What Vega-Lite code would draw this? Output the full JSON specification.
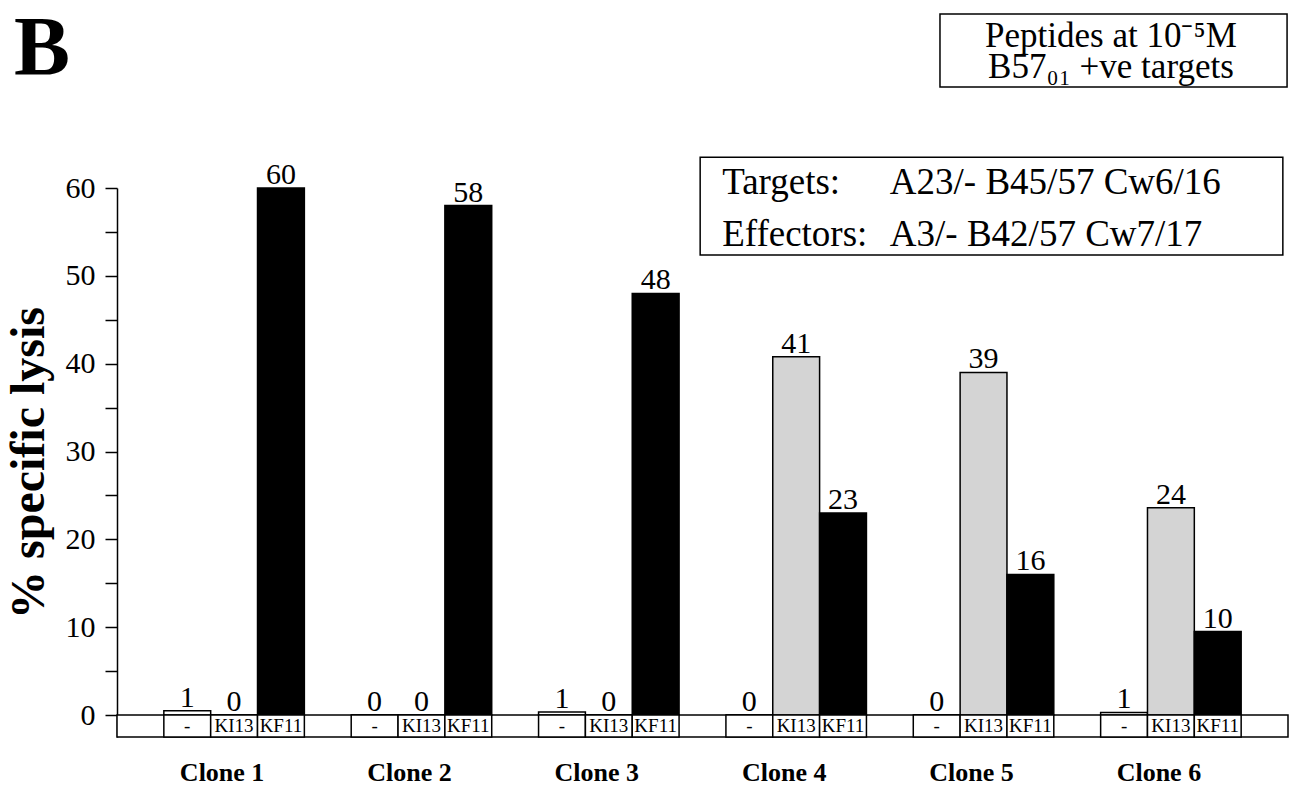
{
  "$schema": "https://vega.github.io/schema/vega-lite/v6.json",
  "width": 1171,
  "height": 549,
  "autosize": "none",
  "padding": {"left": 117, "top": 188, "right": 6, "bottom": 49},
  "background": "white",
  "config": {"view": {"stroke": null}, "font": "Liberation Serif"},
  "datasets": {
    "lysis": [
      {"clone": "Clone 1", "peptide": "-", "lysis": 0.5, "label": "1"},
      {"clone": "Clone 1", "peptide": "KI13", "lysis": 0, "label": "0"},
      {"clone": "Clone 1", "peptide": "KF11", "lysis": 60, "label": "60"},
      {"clone": "Clone 2", "peptide": "-", "lysis": 0, "label": "0"},
      {"clone": "Clone 2", "peptide": "KI13", "lysis": 0, "label": "0"},
      {"clone": "Clone 2", "peptide": "KF11", "lysis": 58, "label": "58"},
      {"clone": "Clone 3", "peptide": "-", "lysis": 0.35, "label": "1"},
      {"clone": "Clone 3", "peptide": "KI13", "lysis": 0, "label": "0"},
      {"clone": "Clone 3", "peptide": "KF11", "lysis": 48, "label": "48"},
      {"clone": "Clone 4", "peptide": "-", "lysis": 0, "label": "0"},
      {"clone": "Clone 4", "peptide": "KI13", "lysis": 40.8, "label": "41"},
      {"clone": "Clone 4", "peptide": "KF11", "lysis": 23, "label": "23"},
      {"clone": "Clone 5", "peptide": "-", "lysis": 0, "label": "0"},
      {"clone": "Clone 5", "peptide": "KI13", "lysis": 39, "label": "39"},
      {"clone": "Clone 5", "peptide": "KF11", "lysis": 16, "label": "16"},
      {"clone": "Clone 6", "peptide": "-", "lysis": 0.3, "label": "1"},
      {"clone": "Clone 6", "peptide": "KI13", "lysis": 23.6, "label": "24"},
      {"clone": "Clone 6", "peptide": "KF11", "lysis": 9.5, "label": "10"}
    ]
  },
  "resolve": {"scale": {"x": "independent"}, "axis": {"x": "independent", "y": "independent"}},
  "layer": [
    {
      "data": {"values": [{}]},
      "encoding": {},
      "layer": [
        {
          "mark": {"type": "rect", "fill": "white", "stroke": "black", "strokeWidth": 1.5},
          "encoding": {
            "x": {"datum": 0, "type": "quantitative", "scale": {"domain": [0, 25], "nice": false, "zero": false}, "axis": null},
            "x2": {"datum": 25},
            "y": {"datum": 0, "type": "quantitative", "scale": {"domain": [-2.5, 60], "nice": false, "zero": false}, "axis": null},
            "y2": {"datum": -2.5}
          }
        },
        {
          "mark": {"type": "rect", "fill": "white", "stroke": "black", "strokeWidth": 1.5},
          "encoding": {
            "x": {"datum": 17.57, "type": "quantitative", "scale": {"domain": [0, 25], "nice": false, "zero": false}, "axis": null},
            "x2": {"datum": 24.98},
            "y": {"datum": 79.8, "type": "quantitative", "scale": {"domain": [-2.5, 60], "nice": false, "zero": false}, "axis": null},
            "y2": {"datum": 71.5}
          }
        },
        {
          "mark": {"type": "rect", "fill": "white", "stroke": "black", "strokeWidth": 1.5},
          "encoding": {
            "x": {"datum": 12.45, "type": "quantitative", "scale": {"domain": [0, 25], "nice": false, "zero": false}, "axis": null},
            "x2": {"datum": 24.89},
            "y": {"datum": 63.5, "type": "quantitative", "scale": {"domain": [-2.5, 60], "nice": false, "zero": false}, "axis": null},
            "y2": {"datum": 52.37}
          }
        },
        {
          "mark": {"type": "text", "text": "B", "font": "Liberation Serif", "fontWeight": "bold", "fontSize": 84, "align": "left", "baseline": "alphabetic", "color": "black"},
          "encoding": {
            "x": {"datum": -2.2, "type": "quantitative", "scale": {"domain": [0, 25], "nice": false, "zero": false}, "axis": null},
            "y": {"datum": 72.86, "type": "quantitative", "scale": {"domain": [-2.5, 60], "nice": false, "zero": false}, "axis": null}
          }
        },
        {
          "mark": {"type": "text", "text": ["Peptides at 10⁻⁵M", "B57₀₁ +ve targets"], "lineHeight": 31, "font": "Liberation Serif", "fontSize": 35, "align": "center", "baseline": "alphabetic", "color": "black"},
          "encoding": {
            "x": {"datum": 21.22, "type": "quantitative", "scale": {"domain": [0, 25], "nice": false, "zero": false}, "axis": null},
            "y": {"datum": 76.0, "type": "quantitative", "scale": {"domain": [-2.5, 60], "nice": false, "zero": false}, "axis": null}
          }
        },
        {
          "mark": {"type": "text", "text": "Targets:", "font": "Liberation Serif", "fontSize": 37, "align": "left", "baseline": "alphabetic", "color": "black"},
          "encoding": {
            "x": {"datum": 12.92, "type": "quantitative", "scale": {"domain": [0, 25], "nice": false, "zero": false}, "axis": null},
            "y": {"datum": 59.3, "type": "quantitative", "scale": {"domain": [-2.5, 60], "nice": false, "zero": false}, "axis": null}
          }
        },
        {
          "mark": {"type": "text", "text": "A23/- B45/57 Cw6/16", "font": "Liberation Serif", "fontSize": 37, "align": "left", "baseline": "alphabetic", "color": "black"},
          "encoding": {
            "x": {"datum": 16.5, "type": "quantitative", "scale": {"domain": [0, 25], "nice": false, "zero": false}, "axis": null},
            "y": {"datum": 59.3, "type": "quantitative", "scale": {"domain": [-2.5, 60], "nice": false, "zero": false}, "axis": null}
          }
        },
        {
          "mark": {"type": "text", "text": "Effectors:", "font": "Liberation Serif", "fontSize": 37, "align": "left", "baseline": "alphabetic", "color": "black"},
          "encoding": {
            "x": {"datum": 12.92, "type": "quantitative", "scale": {"domain": [0, 25], "nice": false, "zero": false}, "axis": null},
            "y": {"datum": 53.4, "type": "quantitative", "scale": {"domain": [-2.5, 60], "nice": false, "zero": false}, "axis": null}
          }
        },
        {
          "mark": {"type": "text", "text": "A3/- B42/57 Cw7/17", "font": "Liberation Serif", "fontSize": 37, "align": "left", "baseline": "alphabetic", "color": "black"},
          "encoding": {
            "x": {"datum": 16.5, "type": "quantitative", "scale": {"domain": [0, 25], "nice": false, "zero": false}, "axis": null},
            "y": {"datum": 53.4, "type": "quantitative", "scale": {"domain": [-2.5, 60], "nice": false, "zero": false}, "axis": null}
          }
        }
      ]
    },
    {
      "data": {"name": "lysis"},
      "encoding": {
        "x": {
          "field": "clone",
          "type": "nominal",
          "sort": ["Clone 1", "Clone 2", "Clone 3", "Clone 4", "Clone 5", "Clone 6"],
          "scale": {"paddingInner": 0.25, "paddingOuter": 0.25},
          "axis": {
            "orient": "bottom",
            "title": null,
            "domain": false,
            "ticks": false,
            "labelAngle": 0,
            "labelFont": "Liberation Serif",
            "labelFontWeight": "bold",
            "labelFontSize": 26,
            "labelColor": "black",
            "labelPadding": 22,
            "labelOffset": -12
          }
        },
        "xOffset": {
          "field": "peptide",
          "type": "nominal",
          "sort": ["-", "KI13", "KF11"],
          "scale": {"domain": ["-", "KI13", "KF11"], "paddingInner": 0, "paddingOuter": 0}
        }
      },
      "layer": [
        {
          "mark": {"type": "bar", "stroke": "black", "strokeWidth": 1.5},
          "encoding": {
            "y": {
              "field": "lysis",
              "type": "quantitative",
              "scale": {"domain": [-2.5, 60], "nice": false, "zero": false},
              "axis": {
                "values": [0, 5, 10, 15, 20, 25, 30, 35, 40, 45, 50, 55, 60],
                "labelExpr": "datum.value % 10 === 0 ? datum.label : ''",
                "grid": false,
                "tickSize": 12,
                "tickWidth": 1.5,
                "tickColor": "black",
                "domainColor": "black",
                "domainWidth": 1.5,
                "labelFont": "Liberation Serif",
                "labelFontSize": 30,
                "labelColor": "black",
                "labelPadding": 10,
                "title": "% specific lysis",
                "titleFont": "Liberation Serif",
                "titleFontWeight": "bold",
                "titleFontSize": 48,
                "titleColor": "black",
                "titlePadding": 12
              }
            },
            "y2": {"datum": 0},
            "color": {
              "field": "peptide",
              "type": "nominal",
              "scale": {"domain": ["-", "KI13", "KF11"], "range": ["#ffffff", "#d4d4d4", "#000000"]},
              "legend": null
            }
          }
        },
        {
          "mark": {"type": "text", "font": "Liberation Serif", "fontSize": 30, "baseline": "alphabetic", "dy": -4, "color": "black"},
          "encoding": {
            "y": {"field": "lysis", "type": "quantitative", "scale": {"domain": [-2.5, 60], "nice": false, "zero": false}},
            "text": {"field": "label"}
          }
        },
        {
          "mark": {"type": "rect", "fill": "white", "stroke": "black", "strokeWidth": 1.5},
          "encoding": {
            "y": {"datum": 0, "type": "quantitative", "scale": {"domain": [-2.5, 60], "nice": false, "zero": false}},
            "y2": {"datum": -2.5}
          }
        },
        {
          "mark": {"type": "text", "font": "Liberation Serif", "fontSize": 19, "baseline": "middle", "color": "black"},
          "encoding": {
            "y": {"datum": -1.25, "type": "quantitative", "scale": {"domain": [-2.5, 60], "nice": false, "zero": false}},
            "text": {"field": "peptide"}
          }
        }
      ]
    }
  ]
}
